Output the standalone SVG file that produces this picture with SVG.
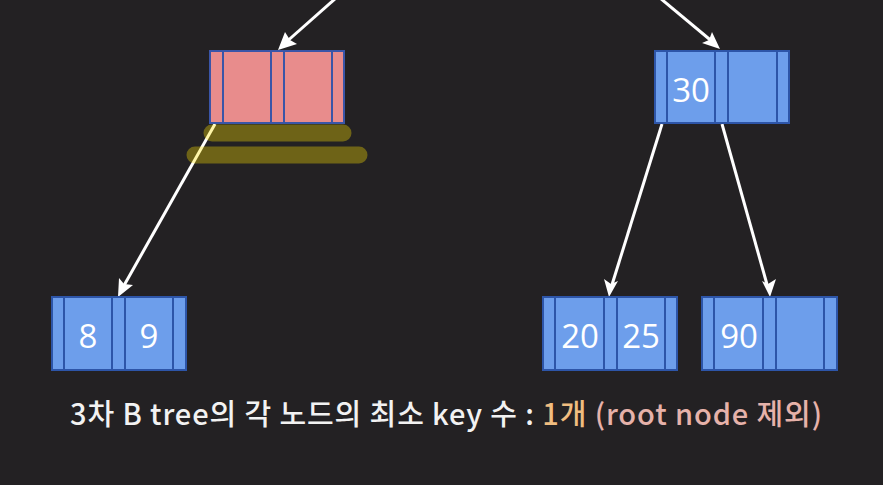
<svg xmlns="http://www.w3.org/2000/svg" width="883" height="485" viewBox="0 0 883 485">
<defs>
<style>
.bg{fill:#232123}
.cell{fill:#6d9eeb;stroke:#2d55a8;stroke-width:2}
.pcell{fill:#e88c8c;stroke:#3a55a8;stroke-width:2}
.num{font-family:"Open Sans","Noto Sans",sans-serif;font-size:33px;fill:#ffffff;text-anchor:middle}
.edge{stroke:#ffffff;stroke-width:3;fill:none}
.head{fill:#ffffff}
.hl{stroke:#ffe600;stroke-opacity:0.34;stroke-width:17;stroke-linecap:round;fill:none}
.cap{font-family:"Noto Sans CJK KR","Noto Sans",sans-serif;font-size:29px;font-weight:500}
</style>
</defs>
<rect class="bg" x="0" y="0" width="883" height="485"/>
<g id="connectors">
<line class="edge" x1="336" y1="-2" x2="284" y2="44"/>
<polygon class="head" points="278,50 285,32 290,40 297,44"/>
<line class="edge" x1="660" y1="-2" x2="714" y2="43"/>
<polygon class="head" points="720,49 702,43 709,40 712,32"/>
<line class="edge" x1="215" y1="124" x2="122" y2="289"/>
<polygon class="head" points="118,297 119,278 124,284 133,285"/>
<line class="edge" x1="662" y1="124" x2="611" y2="288"/>
<polygon class="head" points="609,297 604,279 611,284 618,281"/>
<line class="edge" x1="722" y1="124" x2="768" y2="288"/>
<polygon class="head" points="770,297 762,281 768,284 776,279"/>
</g>
<g id="node-pink">
<rect class="pcell" x="210" y="51" width="13" height="72"/>
<rect class="pcell" x="223" y="51" width="48" height="72"/>
<rect class="pcell" x="271" y="51" width="13" height="72"/>
<rect class="pcell" x="284" y="51" width="48" height="72"/>
<rect class="pcell" x="332" y="51" width="12" height="72"/>
</g>
<g id="highlight">
<line class="hl" x1="212" y1="133" x2="343" y2="133"/>
<line class="hl" x1="195" y1="155" x2="359" y2="155"/>
</g>
<g id="node-30">
<rect class="cell" x="655" y="51" width="12" height="72"/>
<rect class="cell" x="667" y="51" width="48" height="72"/>
<rect class="cell" x="715" y="51" width="13" height="72"/>
<rect class="cell" x="728" y="51" width="49" height="72"/>
<rect class="cell" x="777" y="51" width="12" height="72"/>
<text class="num" x="691" y="102">30</text>
</g>
<g id="node-8-9">
<rect class="cell" x="52" y="297" width="12" height="73"/>
<rect class="cell" x="64" y="297" width="48" height="73"/>
<rect class="cell" x="112" y="297" width="13" height="73"/>
<rect class="cell" x="125" y="297" width="48" height="73"/>
<rect class="cell" x="173" y="297" width="13" height="73"/>
<text class="num" x="88" y="348">8</text>
<text class="num" x="149" y="348">9</text>
</g>
<g id="node-20-25">
<rect class="cell" x="543" y="297" width="12" height="73"/>
<rect class="cell" x="555" y="297" width="49" height="73"/>
<rect class="cell" x="604" y="297" width="13" height="73"/>
<rect class="cell" x="617" y="297" width="48" height="73"/>
<rect class="cell" x="665" y="297" width="12" height="73"/>
<text class="num" x="580" y="348">20</text>
<text class="num" x="641" y="348">25</text>
</g>
<g id="node-90">
<rect class="cell" x="702" y="297" width="12" height="73"/>
<rect class="cell" x="714" y="297" width="49" height="73"/>
<rect class="cell" x="763" y="297" width="13" height="73"/>
<rect class="cell" x="776" y="297" width="48" height="73"/>
<rect class="cell" x="824" y="297" width="13" height="73"/>
<text class="num" x="739" y="348">90</text>
</g>
<g id="caption">
<text class="cap" x="70" y="425" textLength="752" lengthAdjust="spacing"><tspan fill="#f2f2f2">3차 B tree의 각 노드의 최소 key 수 : </tspan><tspan fill="#f0bd80">1개 </tspan><tspan fill="#e6b2aa">(root node 제외)</tspan></text>
</g>
</svg>
